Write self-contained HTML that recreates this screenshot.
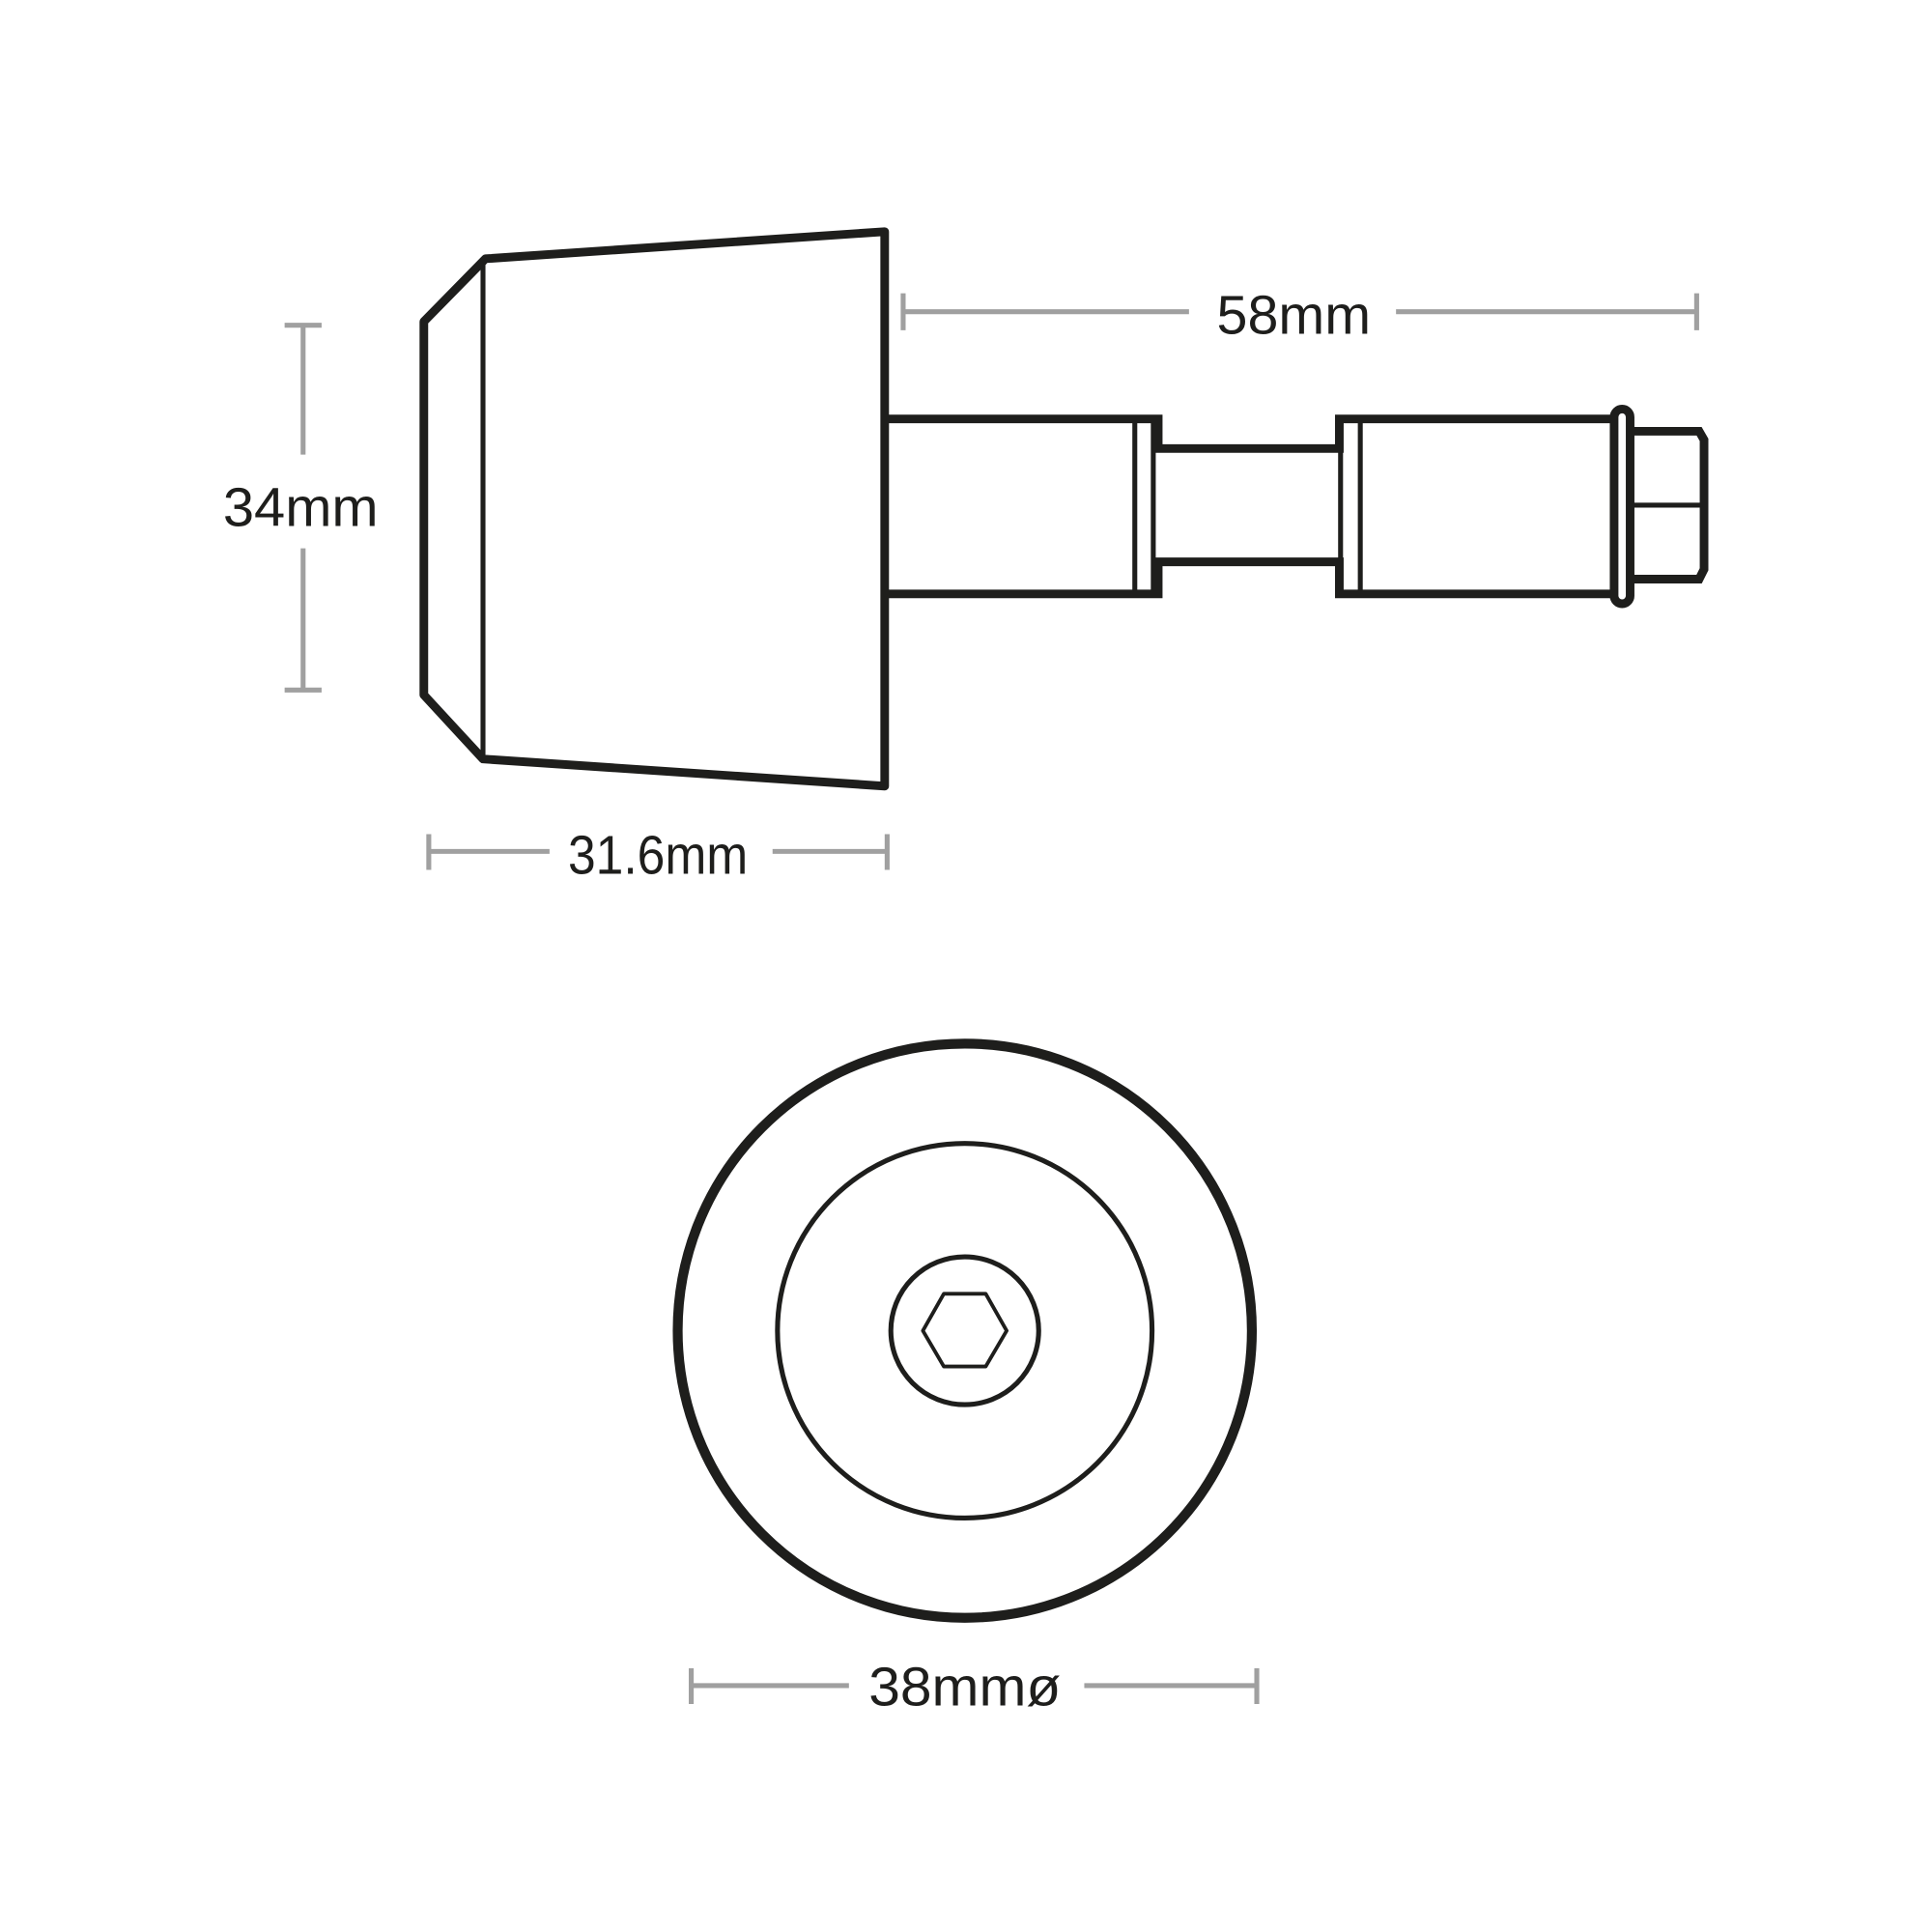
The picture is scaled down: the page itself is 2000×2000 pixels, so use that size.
<!DOCTYPE html>
<html><head><meta charset="utf-8"><style>html,body{margin:0;padding:0;background:#fff}svg{display:block}</style></head>
<body>
<svg width="2000" height="2000" viewBox="0 0 1568 1568" xmlns="http://www.w3.org/2000/svg">
<g fill="none" stroke="#1e1e1c" stroke-linejoin="round">
 <path d="M718,188 L394,210 L344,261 L344,564 L392,616 L718,638 Z" stroke-width="7"/>
 <line x1="392" y1="213" x2="392" y2="613" stroke-width="4"/>
 <path d="M721,340 H940 V364 H1087 V340 H1310" stroke-width="7" stroke-linejoin="miter"/>
 <path d="M721,482 H940 V456 H1087 V482 H1310" stroke-width="7" stroke-linejoin="miter"/>
 <line x1="921" y1="343" x2="921" y2="479" stroke-width="4"/>
 <line x1="936" y1="343" x2="936" y2="479" stroke-width="4"/>
 <line x1="1088" y1="343" x2="1088" y2="479" stroke-width="4"/>
 <line x1="1104" y1="343" x2="1104" y2="479" stroke-width="4"/>
 <rect x="1310" y="332" width="13" height="158" rx="6.5" stroke-width="7"/>
 <path d="M1323,350 H1379 L1383,357 V462 L1379,470 H1323" stroke-width="7" stroke-linejoin="miter"/>
 <line x1="1323" y1="410" x2="1380" y2="410" stroke-width="4"/>
 <circle cx="783" cy="1080" r="233" stroke-width="8"/>
 <circle cx="783" cy="1080" r="152" stroke-width="4"/>
 <circle cx="783" cy="1080" r="60" stroke-width="4"/>
 <polygon points="749,1080 766,1050 800,1050 817,1080 800,1109 766,1109" stroke-width="3"/>
</g>
<g stroke="#a0a0a0" stroke-width="4" fill="none">
 <path d="M733,253 H965 M1133,253 H1377 M733,238 V268 M1377,238 V268"/>
 <path d="M246,264 V369 M246,445 V560 M231,264 H261 M231,560 H261"/>
 <path d="M348,691 H446 M627,691 H720 M348,677 V706 M720,677 V706"/>
 <path d="M561,1368 H689 M880,1368 H1020 M561,1354 V1383 M1020,1354 V1383"/>
</g>
<g fill="#1e1e1c" font-family="Liberation Sans, sans-serif" font-size="44" text-anchor="middle">
 <text x="1050" y="271" textLength="125" lengthAdjust="spacingAndGlyphs">58mm</text>
 <text x="244" y="427" textLength="126" lengthAdjust="spacingAndGlyphs">34mm</text>
 <text x="534" y="709" textLength="146" lengthAdjust="spacingAndGlyphs">31.6mm</text>
 <text x="783" y="1384" textLength="156" lengthAdjust="spacingAndGlyphs">38mmø</text>
</g>
</svg>
</body></html>
